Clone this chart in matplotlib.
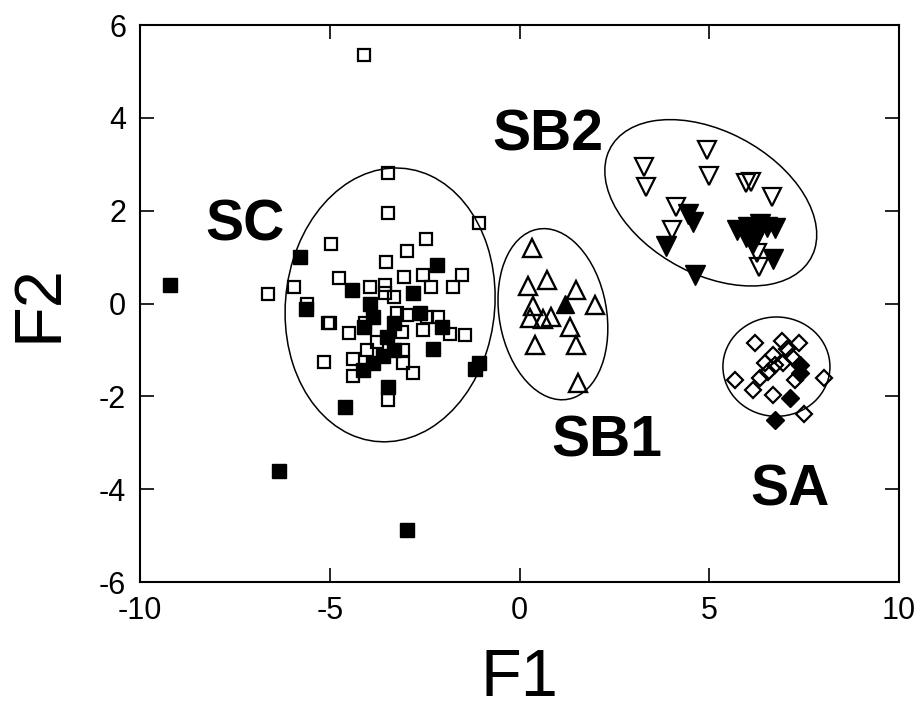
import matplotlib.pyplot as plt
from matplotlib.patches import Ellipse

plt.rcParams['font.family'] = ['Liberation Sans', 'DejaVu Sans']
plt.rcParams['axes.unicode_minus'] = False

# SC group (squares)
sc_open_x = [-4.1, -6.64, -5.94, -5.6, -4.98, -5.05, -4.99, -4.5, -5.14, -3.46, -3.46, -2.46,
             -2.97, -3.52, -1.06, -1.52, -1.74, -1.44, -3.46, -2.8, -4.38, -4.38, -4.75,
             -3.94, -3.54, -3.04, -2.55, -2.33, -3.31, -3.24, -2.97, -2.45, -2.14, -1.83,
             -2.55, -3.1, -3.06, -3.06, -4.03, -3.76, -4.07, -3.54]
sc_open_y = [5.35, 0.2, 0.36, 0.0, 1.28, -0.43, -0.43, -0.63, -1.25, 2.82, 1.96, 1.38,
             1.14, 0.9, 1.74, 0.61, 0.36, -0.68, -2.08, -1.49, -1.57, -1.2, 0.54,
             0.36, 0.4, 0.58, 0.61, 0.36, 0.15, -0.21, -0.25, -0.29, -0.29, -0.65,
             -0.57, -0.61, -1.0, -1.28, -1.0, -0.82, -0.43, 0.22]
sc_fill_x = [-9.21, -5.78, -5.63, -4.6, -6.34, -2.97, -1.06, -1.17, -3.46, -2.18, -2.27,
             -4.13, -4.42, -3.94, -3.85, -4.11, -2.8, -2.62, -2.05, -3.5, -3.32, -3.59,
             -3.85, -3.32]
sc_fill_y = [0.4, 1.0, -0.12, -2.22, -3.6, -4.88, -1.29, -1.4, -1.79, 0.83, -0.97,
             -1.43, 0.29, 0.0, -0.29, -0.5, 0.22, -0.21, -0.5, -0.72, -1.0, -1.14,
             -1.28, -0.43]

# SB1 group (up triangles)
sb1_open_x = [0.34, 0.72, 0.23, 1.48, 1.99, 0.36, 0.27, 0.63, 0.83, 1.33, 0.42, 1.5, 1.54]
sb1_open_y = [1.19, 0.51, 0.38, 0.29, -0.03, -0.05, -0.32, -0.34, -0.28, -0.51, -0.89, -0.89, -1.72]
sb1_fill_x = [1.19]
sb1_fill_y = [0.0]

# SB2 group (down triangles)
sb2_open_x = [3.29, 3.33, 4.95, 5.0, 5.98, 6.11, 6.66, 4.12, 4.03, 6.25, 6.32]
sb2_open_y = [2.95, 2.52, 3.31, 2.75, 2.6, 2.62, 2.29, 2.07, 1.59, 1.08, 0.79]
sb2_fill_x = [4.44, 4.57, 3.87, 4.62, 5.72, 6.03, 6.25, 6.51, 6.73, 6.33, 5.98, 6.69, 6.16]
sb2_fill_y = [1.93, 1.76, 1.23, 0.61, 1.58, 1.65, 1.47, 1.65, 1.62, 1.72, 1.44, 0.96, 1.3]

# SA group (diamonds)
sa_open_x = [6.21, 6.92, 7.36, 7.05, 6.69, 7.18, 6.47, 6.73, 6.95, 5.67, 6.34, 7.27, 8.02,
             6.16, 6.69, 7.49, 6.56]
sa_open_y = [-0.86, -0.8, -0.86, -0.97, -1.11, -1.15, -1.29, -1.33, -1.29, -1.65, -1.61,
             -1.65, -1.61, -1.86, -1.97, -2.37, -1.47]
sa_fill_x = [7.39, 7.39, 7.14, 6.73]
sa_fill_y = [-1.33, -1.5, -2.04, -2.51]

fig = plt.figure(figsize=(9.23, 7.11), dpi=100)
ax = fig.add_axes([0.1517, 0.1814, 0.8223, 0.7834])

ax.plot(sc_open_x, sc_open_y, 's', ms=8.5, mfc='none', mec='black', mew=1.6)
ax.plot(sc_fill_x, sc_fill_y, 's', ms=9.5, color='black')
ax.plot(sb1_open_x, sb1_open_y, '^', ms=12.5, mfc='none', mec='black', mew=1.7)
ax.plot(sb1_fill_x, sb1_fill_y, '^', ms=13, color='black')
ax.plot(sb2_open_x, sb2_open_y, 'v', ms=12.5, mfc='none', mec='black', mew=1.6)
ax.plot(sb2_fill_x, sb2_fill_y, 'v', ms=14, color='black')
ax.plot(sa_open_x, sa_open_y, 'D', ms=8.5, mfc='none', mec='black', mew=1.6)
ax.plot(sa_fill_x, sa_fill_y, 'D', ms=9.5, color='black')

# group ellipses
ax.add_patch(Ellipse((-3.41, -0.03), 5.96, 5.47, angle=69, fill=False, lw=1.1))
ax.add_patch(Ellipse((0.88, -0.23), 3.76, 2.8, angle=-73, fill=False, lw=1.1))
ax.add_patch(Ellipse((5.04, 2.17), 5.83, 3.17, angle=-20, fill=False, lw=1.1))
ax.add_patch(Ellipse((6.77, -1.36), 2.82, 2.14, fill=False, lw=1.1))

for txt, x, y in [('SC', -7.23, 1.69), ('SB2', 0.75, 3.63), ('SB1', 2.3, -2.98), ('SA', 7.13, -4.02)]:
    ax.text(x, y, txt, fontsize=41, fontweight='bold', ha='center', va='center')

ax.set_xlim(-10, 10)
ax.set_ylim(-6, 6)
ax.set_xticks([-10, -5, 0, 5, 10])
ax.set_yticks([-6, -4, -2, 0, 2, 4, 6])
ax.tick_params(direction='in', length=10, width=1.2, labelsize=22, pad=10,
               top=True, right=True)
for s in ax.spines.values():
    s.set_linewidth(1.5)

ax.set_xlabel('F1', fontsize=48, va='center')
ax.set_ylabel('F2', fontsize=48, va='center')
ax.xaxis.set_label_coords(0.5, -0.175)
ax.yaxis.set_label_coords(-0.132, 0.5)

fig.savefig('out.png', dpi=100)
